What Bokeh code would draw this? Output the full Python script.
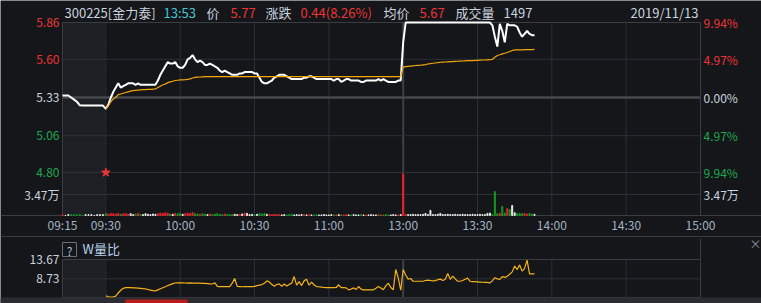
from bokeh.plotting import figure
from bokeh.models import Range1d, ColumnDataSource
from bokeh.embed import file_html
from bokeh.resources import INLINE
from bokeh.core.properties import value

# ---------------- data ----------------
PREV_CLOSE = 5.33
PRICE_TICKS = [5.86, 5.60, 5.33, 5.06, 4.80]
PCT_TICK_LABELS = ["9.94%", "4.97%", "0.00%", "4.97%", "9.94%"]
VOL_TICK = 3.47
VOL_TICK_LABEL = "3.47万"
RATIO_TICKS = [13.67, 8.73]
RATIO_TICK_LABELS = ["13.67", "8.73"]
TIME_TICKS = [-17.5, 0, 30, 60, 90, 120, 150, 180, 210, 240]
TIME_LABELS = ["09:15", "09:30", "10:00", "10:30", "11:00", "13:00", "13:30", "14:00", "14:30", "15:00"]

# call auction 09:15 .. 09:29 (minutes after 09:15)
PRE_MINUTES = list(range(15))
PRE_PRICE = [5.344, 5.344, 5.344, 5.33, 5.315, 5.30, 5.275, 5.273, 5.273, 5.273,
             5.273, 5.273, 5.273, 5.273, 5.273]
PRE_VOLUME = [0.15, 0.0, 0.15, 0.15, 0.15, 0.15, 0.15, 0.0, 0.15, 0.15,
              0.15, 0.0, 0.15, 0.15, 0.15]

# trading minutes: index 0 = 09:30, 120 = 11:30/13:00, 173 = 13:53
PRICE = [
    5.25, 5.28, 5.33, 5.37, 5.40, 5.43, 5.40, 5.41, 5.42, 5.43,
    5.43, 5.43, 5.42, 5.43, 5.42, 5.42, 5.42, 5.42, 5.42, 5.42,
    5.42, 5.45, 5.49, 5.52, 5.55, 5.58, 5.57, 5.57, 5.58, 5.55,
    5.54, 5.54, 5.56, 5.60, 5.61, 5.63, 5.60, 5.58, 5.59, 5.58,
    5.56, 5.56, 5.57, 5.56, 5.55, 5.54, 5.52, 5.51, 5.52, 5.51,
    5.50, 5.49, 5.49, 5.49, 5.50, 5.50, 5.51, 5.51, 5.51, 5.51,
    5.50, 5.50, 5.47, 5.44, 5.43, 5.43, 5.44, 5.45, 5.47, 5.48,
    5.49, 5.49, 5.49, 5.48, 5.47, 5.46, 5.46, 5.46, 5.46, 5.46,
    5.47, 5.47, 5.48, 5.48, 5.47, 5.46, 5.46, 5.46, 5.46, 5.46,
    5.46, 5.46, 5.45, 5.46, 5.46, 5.44, 5.45, 5.46, 5.46, 5.45,
    5.45, 5.45, 5.45, 5.44, 5.44, 5.45, 5.45, 5.45, 5.45, 5.45,
    5.46, 5.45, 5.46, 5.45, 5.44, 5.44, 5.44, 5.44, 5.45, 5.45,
    5.72, 5.86, 5.86, 5.86, 5.86, 5.86, 5.86, 5.86, 5.86, 5.86,
    5.86, 5.86, 5.86, 5.86, 5.86, 5.86, 5.86, 5.86, 5.86, 5.86,
    5.86, 5.86, 5.86, 5.86, 5.86, 5.86, 5.86, 5.86, 5.86, 5.86,
    5.86, 5.86, 5.86, 5.86, 5.86, 5.86, 5.84, 5.76, 5.69, 5.85,
    5.80, 5.72, 5.85, 5.84, 5.84, 5.84, 5.83, 5.79, 5.76, 5.78,
    5.80, 5.78, 5.77, 5.77,
]
AVG_PRICE = [
    5.250, 5.270, 5.300, 5.320, 5.330, 5.350, 5.355, 5.360, 5.365, 5.370,
    5.375, 5.378, 5.380, 5.382, 5.384, 5.385, 5.386, 5.387, 5.388, 5.389,
    5.390, 5.400, 5.410, 5.420, 5.425, 5.435, 5.440, 5.445, 5.450, 5.452,
    5.454, 5.455, 5.456, 5.458, 5.462, 5.468, 5.472, 5.474, 5.475, 5.476,
    5.477, 5.477, 5.478, 5.478, 5.478, 5.478, 5.478, 5.478, 5.478, 5.478,
    5.478, 5.478, 5.478, 5.478, 5.478, 5.478, 5.478, 5.478, 5.478, 5.478,
    5.478, 5.478, 5.478, 5.478, 5.478, 5.478, 5.478, 5.478, 5.478, 5.478,
    5.478, 5.478, 5.478, 5.478, 5.478, 5.478, 5.478, 5.478, 5.478, 5.478,
    5.478, 5.478, 5.478, 5.478, 5.478, 5.478, 5.478, 5.478, 5.478, 5.478,
    5.478, 5.478, 5.478, 5.478, 5.478, 5.478, 5.478, 5.478, 5.478, 5.478,
    5.478, 5.478, 5.478, 5.478, 5.478, 5.478, 5.478, 5.478, 5.478, 5.478,
    5.478, 5.478, 5.478, 5.478, 5.478, 5.478, 5.478, 5.478, 5.478, 5.478,
    5.545, 5.548, 5.550, 5.552, 5.554, 5.556, 5.557, 5.558, 5.560, 5.562,
    5.567, 5.569, 5.572, 5.574, 5.576, 5.579, 5.580, 5.581, 5.582, 5.583,
    5.584, 5.585, 5.586, 5.587, 5.588, 5.589, 5.590, 5.591, 5.591, 5.592,
    5.593, 5.594, 5.595, 5.595, 5.596, 5.597, 5.600, 5.615, 5.627, 5.632,
    5.638, 5.643, 5.648, 5.655, 5.662, 5.667, 5.667, 5.667, 5.667, 5.668,
    5.668, 5.668, 5.669, 5.670,
]
VOLUME = [  # 万
    0.30, 0.25, 0.35, 0.30, 0.25, 0.35, 0.20, 0.30, 0.35, 0.20,
    0.30, 0.15, 0.25, 0.35, 0.20, 0.15, 0.30, 0.20, 0.15, 0.25,
    0.20, 0.30, 0.40, 0.35, 0.45, 0.40, 0.25, 0.20, 0.35, 0.30,
    0.35, 0.20, 0.30, 0.40, 0.35, 0.50, 0.30, 0.25, 0.20, 0.30,
    0.25, 0.15, 0.25, 0.15, 0.25, 0.30, 0.20, 0.15, 0.25, 0.15,
    0.15, 0.15, 0.20, 0.15, 0.20, 0.25, 0.40, 0.35, 0.15, 0.20,
    0.15, 0.20, 0.35, 0.25, 0.35, 0.20, 0.15, 0.15, 0.20, 0.15,
    0.15, 0.10, 0.15, 0.10, 0.15, 0.20, 0.10, 0.15, 0.10, 0.15,
    0.15, 0.10, 0.15, 0.10, 0.10, 0.15, 0.10, 0.10, 0.15, 0.10,
    0.10, 0.15, 0.10, 0.10, 0.15, 0.10, 0.10, 0.15, 0.10, 0.10,
    0.15, 0.10, 0.10, 0.15, 0.10, 0.10, 0.10, 0.15, 0.10, 0.10,
    0.15, 0.10, 0.10, 0.15, 0.10, 0.10, 0.15, 0.10, 0.10, 0.15,
    6.90, 0.20, 0.15, 0.15, 0.20, 0.15, 0.15, 0.15, 0.20, 0.35,
    0.15, 0.85, 0.15, 0.15, 0.20, 0.35, 0.15, 0.15, 0.20, 0.15,
    0.15, 0.20, 0.15, 0.15, 0.20, 0.15, 0.15, 0.15, 0.20, 0.15,
    0.15, 0.20, 0.15, 0.15, 0.35, 0.40, 0.20, 3.95, 0.30, 0.35,
    1.50, 0.40, 1.15, 1.00, 1.65, 0.45, 0.35, 0.35, 0.30, 0.35,
    0.25, 0.35, 0.25, 0.20,
]
VOL_RATIO = [  # W量比
    4.4, 4.1, 4.05, 4.1, 4.3, 5.1, 5.8, 6.3, 6.45, 6.45,
    6.45, 6.4, 6.4, 6.35, 6.3, 6.2, 6.15, 6.0, 5.85, 5.7,
    5.65, 5.9, 6.2, 6.45, 6.7, 7.0, 7.25, 7.5, 7.65, 7.7,
    7.7, 7.7, 7.65, 7.6, 7.7, 7.6, 7.6, 7.6, 7.6, 7.55,
    7.55, 7.5, 7.45, 7.4, 7.7, 6.8, 6.75, 6.75, 6.75, 6.75,
    6.75, 7.6, 8.8, 6.8, 6.75, 6.7, 6.75, 6.75, 6.75, 6.75,
    6.8, 7.0, 7.1, 7.25, 7.6, 8.2, 7.9, 7.25, 6.8, 7.3,
    7.4, 6.8, 7.4, 6.9, 7.3, 7.6, 9.3, 7.1, 8.0, 7.0,
    8.2, 8.6, 7.1, 7.9, 7.2, 6.75, 6.7, 6.6, 6.5, 6.45,
    6.45, 6.45, 6.45, 6.5, 7.2, 6.45, 6.45, 6.4, 5.9, 6.1,
    6.4, 6.0, 6.75, 6.1, 5.9, 5.9, 5.9, 5.9, 5.9, 6.3,
    6.75, 6.4, 5.95, 6.9, 7.6, 6.5, 5.9, 11.1, 9.0, 5.8,
    11.1, 9.7, 8.65, 8.8, 8.1, 8.1, 8.1, 8.1, 8.1, 8.3,
    8.4, 8.3, 8.2, 8.25, 8.5, 8.65, 8.3, 8.6, 10.1, 8.6,
    9.4, 8.7, 8.1, 8.1, 8.3, 8.6, 8.9, 8.1, 8.0, 8.0,
    7.95, 7.9, 7.85, 7.8, 7.8, 7.7, 8.2, 9.0, 8.7, 8.6,
    9.3, 9.1, 9.4, 9.9, 10.5, 12.0, 11.1, 12.3, 10.7, 11.4,
    13.5, 10.0, 10.0, 10.0,
]
STAR_INDEX = 0
STAR_PRICE = 4.80

HEADER_TEXTS = ["300225[金力泰]", "13:53", "价", "5.77", "涨跌", "0.44(8.26%)",
                "均价", "5.67", "成交量", "1497"]
HEADER_KINDS = ["txt", "time", "txt", "up", "txt", "up", "txt", "up", "txt", "txt"]
DATE_TEXT = "2019/11/13"
PANEL_TITLE = "W量比"

# ---------------- style / layout (pixels) ----------------
FONT = "Noto Sans CJK SC"
BG = "#14161a"
PRE_BG = "#1c1f23"
GRID = "#2d3035"
FRAME = "#3a3d42"
TXT = "#c9d3de"
TIME_TXT = "#a3b3c4"
RED = "#ee3434"
GREEN = "#1ea84e"
CYAN = "#45c6d1"
BAR_RED = "#e8232a"
BAR_GREEN = "#159a1f"
BAR_WHITE = "#e8e8e8"
AVG_COLOR = "#f2a60c"
RATIO_COLOR = "#f7b21a"
HEADER_PX = [64, 163, 206, 230, 265, 300, 383, 419, 455, 503]
W, H = 761, 303
FL, FR = 62, 700                 # frame left / right
PT, PB = 22, 215                 # price+volume panel top / bottom
PY_TOP_TICK, PY_BOT_TICK = 22, 172
VOL_TICK_PY = 194
TIME_PY = 224
SEP_PY = 236
RT, RB = 259, 297                # ratio panel top / bottom
RATIO_TICK2_PY = 278.3

X0, X1 = TIME_TICKS[0], TIME_TICKS[-1]
SX = (FR - FL) / (X1 - X0)


def x_at(px):
    return X0 + (px - FL) / SX


KP = (PRICE_TICKS[0] - PRICE_TICKS[-1]) / (PY_BOT_TICK - PY_TOP_TICK)


def price_at(py):
    return PRICE_TICKS[0] - (py - PY_TOP_TICK) * KP


KV = VOL_TICK / (PB - VOL_TICK_PY)


def vol_at(py):
    return (PB - py) * KV


KR = (RATIO_TICKS[0] - RATIO_TICKS[1]) / (RATIO_TICK2_PY - RT)


def ratio_at(py):
    return RATIO_TICKS[0] - (py - RT) * KR


def tick_color(v):
    if abs(v - PREV_CLOSE) < 1e-9:
        return TXT
    return RED if v > PREV_CLOSE else GREEN


def bar_colors(values, prev):
    out = []
    for v in values:
        out.append(BAR_RED if v > prev + 1e-9 else (BAR_GREEN if v < prev - 1e-9 else BAR_WHITE))
        prev = v
    return out


pre_x = [X0 + t * (0 - X0) / 15 for t in PRE_MINUTES]
main_x = list(range(len(PRICE)))

p = figure(width=W, height=H, x_range=Range1d(x_at(0), x_at(W)),
           y_range=Range1d(price_at(H), price_at(0)),
           output_backend="svg", toolbar_location=None,
           x_axis_location=None, y_axis_location=None,
           min_border_left=0, min_border_right=0, min_border_top=0, min_border_bottom=0)
p.extra_y_ranges = {"vol": Range1d(vol_at(H), vol_at(0)),
                    "ratio": Range1d(ratio_at(H), ratio_at(0))}
p.background_fill_color = BG
p.border_fill_color = BG
p.outline_line_color = None
p.xgrid.visible = False
p.ygrid.visible = False

P_PB = price_at(PB)
R_TOP, R_BOT = RATIO_TICKS[0], ratio_at(RB)

# panel backgrounds (pre-market shading)
p.quad(left=[X0], right=[0], bottom=[P_PB], top=[PRICE_TICKS[0]], fill_color=PRE_BG, line_color=None)
p.quad(left=[X0], right=[0], bottom=[R_BOT], top=[R_TOP], fill_color=PRE_BG, line_color=None,
       y_range_name="ratio")

# vertical grid lines
vt = TIME_TICKS[2:-1]
vcol = ["#3d4045" if t == 120 else GRID for t in vt]
vw = [2 if t == 120 else 1 for t in vt]
p.segment(x0=vt, x1=vt, y0=[P_PB] * len(vt), y1=[PRICE_TICKS[0]] * len(vt), line_color=vcol, line_width=vw)
p.segment(x0=vt, x1=vt, y0=[R_BOT] * len(vt), y1=[R_TOP] * len(vt), line_color=vcol, line_width=vw,
          y_range_name="ratio")
p.segment(x0=[0], x1=[0], y0=[P_PB], y1=[PRICE_TICKS[0]], line_color="#4a4d52", line_dash="1 2")
p.segment(x0=[0], x1=[0], y0=[R_BOT], y1=[R_TOP], line_color="#4a4d52", line_dash="1 2",
          y_range_name="ratio")

# horizontal grid lines
for v in PRICE_TICKS[1:]:
    if abs(v - PREV_CLOSE) < 1e-9:
        p.segment(x0=[X0], x1=[X1], y0=[v], y1=[v], line_color="#47494d", line_width=2.5)
    else:
        p.segment(x0=[X0], x1=[X1], y0=[v], y1=[v], line_color=GRID, line_width=1)
p.segment(x0=[X0], x1=[X1], y0=[VOL_TICK], y1=[VOL_TICK], line_color=GRID, y_range_name="vol")
p.segment(x0=[X0], x1=[X1], y0=[RATIO_TICKS[1]], y1=[RATIO_TICKS[1]], line_color=GRID,
          y_range_name="ratio")

# frames
p.quad(left=[X0], right=[X1], bottom=[P_PB], top=[PRICE_TICKS[0]], fill_color=None, line_color=FRAME)
p.quad(left=[X0], right=[X1], bottom=[R_BOT], top=[R_TOP], fill_color=None, line_color=FRAME,
       y_range_name="ratio")
# full-width separators
p.segment(x0=[x_at(0)] * 2, x1=[x_at(W)] * 2, y0=[P_PB, price_at(SEP_PY)], y1=[P_PB, price_at(SEP_PY)],
          line_color=FRAME)
p.segment(x0=[X1], x1=[X1], y0=[ratio_at(SEP_PY + 2)], y1=[R_TOP], line_color=FRAME, y_range_name="ratio")

# volume bars
vol_src = ColumnDataSource(dict(
    x=pre_x + main_x,
    top=PRE_VOLUME + VOLUME,
    color=bar_colors(PRE_PRICE, PREV_CLOSE) + bar_colors(PRICE, PRE_PRICE[-1]),
))
p.vbar(x="x", top="top", bottom=0, width=0.4, color="color", source=vol_src, y_range_name="vol")

# price + average + ratio lines
p.line(pre_x + main_x, PRE_PRICE + PRICE, line_color="#ffffff", line_width=2)
p.line(main_x, AVG_PRICE, line_color=AVG_COLOR, line_width=1.2)
p.line(main_x, VOL_RATIO, line_color=RATIO_COLOR, line_width=1.2, y_range_name="ratio")
p.scatter([STAR_INDEX], [STAR_PRICE], marker="star", size=9, color=RED)

# scroll bar
p.quad(left=[x_at(0)], right=[x_at(W)], bottom=[ratio_at(H)], top=[ratio_at(RB)],
       fill_color="#2a2c31", line_color=None, y_range_name="ratio")
p.quad(left=[x_at(125)], right=[x_at(187)], bottom=[ratio_at(H)], top=[ratio_at(RB + 2)],
       fill_color="#b81d1d", line_color=None, y_range_name="ratio")

# ---------------- texts ----------------
F12 = dict(text_font=value(FONT), text_font_size=value("12px"), text_baseline="middle")
F13 = dict(text_font=value(FONT), text_font_size=value("13px"), text_baseline="middle")

cols = [tick_color(v) for v in PRICE_TICKS]
p.text(x=[X0] * 5, y=PRICE_TICKS, text=[f"{v:.2f}" for v in PRICE_TICKS], text_color=cols,
       text_align="right", x_offset=-3, **F12)
p.text(x=[X1] * 5, y=PRICE_TICKS, text=PCT_TICK_LABELS, text_color=cols,
       text_align="left", x_offset=3, **F12)
p.text(x=[X0], y=[VOL_TICK], text=[VOL_TICK_LABEL], text_color=TXT, text_align="right",
       x_offset=-3, y_range_name="vol", **F12)
p.text(x=[X1], y=[VOL_TICK], text=[VOL_TICK_LABEL], text_color=TXT, text_align="left",
       x_offset=3, y_range_name="vol", **F12)
p.text(x=TIME_TICKS, y=[price_at(TIME_PY)] * len(TIME_TICKS), text=TIME_LABELS, text_color=TIME_TXT,
       text_align="center", **F12)
p.text(x=[X0] * 2, y=RATIO_TICKS, text=RATIO_TICK_LABELS, text_color=TXT, text_align="right",
       x_offset=-3, y_range_name="ratio", **F12)

kind_color = {"txt": TXT, "time": CYAN, "up": RED}
p.text(x=[x_at(px) for px in HEADER_PX], y=[price_at(12)] * len(HEADER_PX), text=HEADER_TEXTS,
       text_color=[kind_color[k] for k in HEADER_KINDS], text_align="left", **F13)
p.text(x=[x_at(698)], y=[price_at(12)], text=[DATE_TEXT], text_color=TXT, text_align="right", **F13)

# W量比 title with help box
p.scatter([x_at(69)], [ratio_at(249)], marker="square", size=14, fill_color=None,
          line_color="#6b6e73", y_range_name="ratio")
p.text(x=[x_at(69)], y=[ratio_at(249.5)], text=["?"], text_color="#a9c4e0", text_align="center",
       y_range_name="ratio", **F12)
p.text(x=[x_at(82)], y=[ratio_at(248)], text=[PANEL_TITLE], text_color="#b9d0e8", text_align="left",
       y_range_name="ratio", **F13)
p.text(x=[x_at(755)], y=[ratio_at(243)], text=["×"], text_color="#8d939b", text_align="center",
       y_range_name="ratio", text_font=value(FONT), text_font_size=value("12px"), text_baseline="middle")

open("out.html", "w").write(file_html(p, INLINE))
